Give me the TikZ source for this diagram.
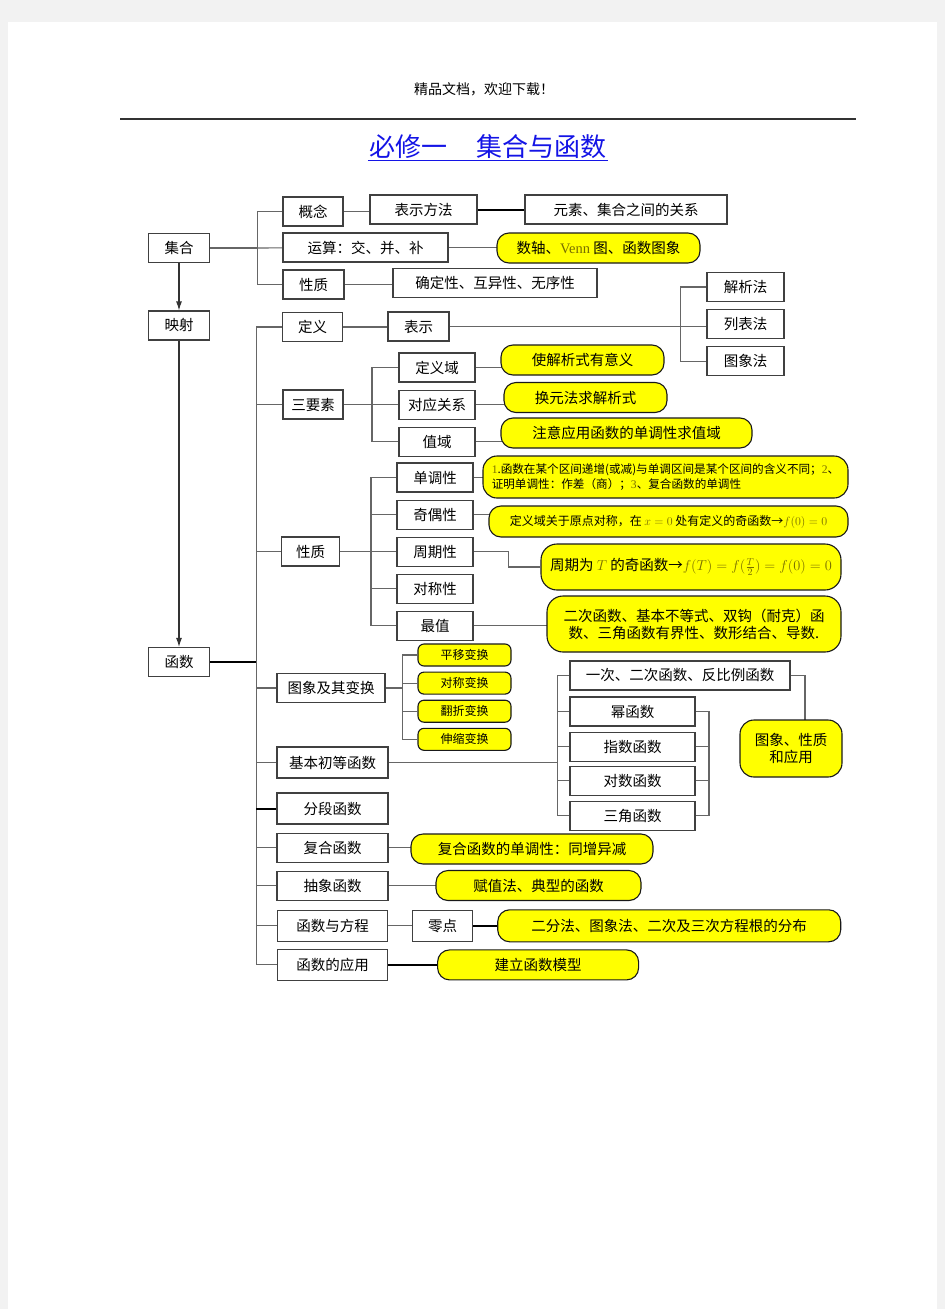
\documentclass[tikz,border=0pt]{standalone}
\usepackage{fontspec}
\setmainfont{Noto Sans CJK SC}
\newfontfamily\latinserif{Liberation Serif}
\usepackage{xcolor}
\usepackage{tikz}
\usetikzlibrary{arrows.meta,positioning,backgrounds}
\definecolor{pagegray}{RGB}{242,242,242}
\definecolor{hlyellow}{RGB}{255,255,0}
\definecolor{olivetxt}{RGB}{120,110,0}
\definecolor{titleblue}{RGB}{20,20,230}
\newcommand{\olv}[1]{{\latinserif\color{olivetxt}#1}}

\begin{document}
\begin{tikzpicture}[
      x=1pt, y=-1pt,
      font=\fontsize{14.5}{17}\selectfont,
      >={Latex[length=9pt,width=6pt]},
      box/.style={draw=black!75, line width=1.1pt, fill=white, inner sep=2pt, minimum height=29pt, align=center},
      hlbox/.style={box, draw=black!90, fill=hlyellow, rounded corners=12pt, minimum height=30pt},
      tagbox/.style={hlbox, rounded corners=6pt, minimum height=22pt, minimum width=93pt, font=\fontsize{12}{14}\selectfont},
      link/.style={draw=black!60, line width=1.1pt},
      heavylink/.style={draw=black, line width=2pt},
]

\useasboundingbox (0,0) rectangle (945,1309);

% header and title
\node[font=\fontsize{14}{16}\selectfont] (header) at (484,89) {精品文档，欢迎下载！};
\node[font=\fontsize{26}{30}\selectfont, text=titleblue, inner sep=1pt] (title) at (488,147) {必修一\hspace{30pt}集合与函数};

% sets
\node[box, minimum width=61pt] (jihe) at (179,248) {集合};
\node[box, minimum width=61pt] (yingshe) at (179,325.5) {映射};
\node[box, minimum width=61pt] (hanshu) at (179,662) {函数};

\node[box, minimum width=60pt] (gainian) at (313,211.5) {概念};
\node[box, minimum width=107pt] (bsff) at (423.5,209.5) {表示方法};
\node[box, minimum width=202pt] (guanxi) at (626,209.5) {元素、集合之间的关系};
\node[box, minimum width=165pt] (yunsuan) at (365.5,247.5) {运算：交、并、补};
\node[hlbox, minimum width=203pt] (venn) at (598.5,248) {数轴、\olv{Venn} 图、函数图象};
\node[box, minimum width=61pt] (xingzhi1) at (313.5,284.5) {性质};
\node[box, minimum width=204pt] (queding) at (495,283) {确定性、互异性、无序性};

% definition
\node[box, minimum width=60pt] (dingyi) at (312.5,327) {定义};
\node[box, minimum width=61pt] (biaoshi) at (418.5,326.5) {表示};
\node[box, minimum width=77pt] (jiexi) at (745.5,287) {解析法};
\node[box, minimum width=77pt, below=7pt of jiexi] (liebiao) {列表法};
\node[box, minimum width=77pt, below=7pt of liebiao] (tuxiang) {图象法};

% three elements
\node[box, minimum width=60pt] (sanyaosu) at (313,404.5) {三要素};
\node[box, minimum width=76pt] (dyy) at (437,367.5) {定义域};
\node[box, minimum width=76pt, below=7pt of dyy] (dygx) {对应关系};
\node[box, minimum width=76pt, below=7pt of dygx] (zhiyu) {值域};
\node[hlbox, minimum width=163pt] (yjiexi) at (582.5,360) {使解析式有意义};
\node[hlbox, minimum width=163pt] (yhuanyuan) at (585.5,397.5) {换元法求解析式};
\node[hlbox, minimum width=251pt] (yzhiyu) at (626.5,433) {注意应用函数的单调性求值域};

% properties
\node[box, minimum width=58pt] (xingzhi2) at (310.5,551.5) {性质};
\node[box, minimum width=76pt] (dandiao) at (435,477.5) {单调性};
\node[box, minimum width=76pt, below=7pt of dandiao] (qiou) {奇偶性};
\node[box, minimum width=76pt, below=7pt of qiou] (zhouqi) {周期性};
\node[box, minimum width=76pt, below=7pt of zhouqi] (duichen) {对称性};
\node[box, minimum width=76pt, below=7pt of duichen] (zuizhi) {最值};
\node[hlbox, minimum width=365pt, minimum height=42pt, rounded corners=14pt, align=left, font=\fontsize{11.6}{15}\selectfont] (ydandiao) at (665.5,477)
  {\olv{1}.函数在某个区间递增(或减)与单调区间是某个区间的含义不同；\olv{2}、\\证明单调性：作差（商）；\olv{3}、复合函数的单调性};
\node[hlbox, minimum width=359pt, minimum height=31pt, font=\fontsize{12}{14}\selectfont] (yqiou) at (668.5,521.5)
  {定义域关于原点对称，在 {\color{olivetxt}$x=0$} 处有定义的奇函数→{\color{olivetxt}$f(0)=0$}};
\node[hlbox, minimum width=300pt, minimum height=46pt, rounded corners=16pt] (yzhouqi) at (691,567)
  {周期为 {\color{olivetxt}$T$} 的奇函数→{\color{olivetxt}$f(T)=f(\frac{T}{2})=f(0)=0$}};
\node[hlbox, minimum width=294pt, minimum height=56pt, rounded corners=16pt] (yzuizhi) at (694,624)
  {二次函数、基本不等式、双钩（耐克）函\\数、三角函数有界性、数形结合、导数.};

% graphs and transforms
\node[box, minimum width=108pt] (bianhuan) at (331,688) {图象及其变换};
\node[tagbox] (pingyi) at (464.5,655) {平移变换};
\node[tagbox, below=5pt of pingyi] (duichenbh) {对称变换};
\node[tagbox, below=5pt of duichenbh] (fanzhe) {翻折变换};
\node[tagbox, below=5pt of fanzhe] (shensuo) {伸缩变换};

% elementary functions
\node[box, minimum width=111pt, minimum height=31pt] (jiben) at (332.5,762.5) {基本初等函数};
\node[box, minimum width=220pt] (yici) at (680,675.5) {一次、二次函数、反比例函数};
\node[box, minimum width=125pt] (mi) at (632.5,711.5) {幂函数};
\node[box, minimum width=125pt, below=5pt of mi] (zhishu) {指数函数};
\node[box, minimum width=125pt, below=4pt of zhishu] (duishu) {对数函数};
\node[box, minimum width=125pt, below=5pt of duishu] (sanjiao) {三角函数};
\node[hlbox, minimum width=102pt, minimum height=57pt, rounded corners=14pt] (tuxingyy) at (791,748.5) {图象、性质\\和应用};

% other kinds
\node[box, minimum width=111pt, minimum height=31pt] (fenduan) at (332.5,808.5) {分段函数};
\node[box, minimum width=111pt, below=8pt of fenduan] (fuhe) {复合函数};
\node[box, minimum width=111pt, below=8pt of fuhe] (chouxiang) {抽象函数};
\node[box, minimum width=110pt, minimum height=31pt, below=9pt of chouxiang] (fangcheng) {函数与方程};
\node[box, minimum width=110pt, minimum height=31pt, below=7pt of fangcheng] (yingyong) {函数的应用};
\node[hlbox, minimum width=242pt] (yfuhe) at (532,849) {复合函数的单调性：同增异减};
\node[hlbox, minimum width=205pt] (yfuzhi) at (538.5,885.5) {赋值法、典型的函数};
\node[box, minimum width=60pt, minimum height=31pt, right=24pt of fangcheng] (lingdian) {零点};
\node[hlbox, minimum width=343pt, minimum height=32pt, right=24pt of lingdian] (yerfen) {二分法、图象法、二次及三次方程根的分布};
\node[hlbox, minimum width=201pt, right=49pt of yingyong] (yjianli) {建立函数模型};

\draw[->, link, draw=black!80] (jihe) -- (yingshe);
\draw[->, link, draw=black!80] (yingshe) -- (hanshu);

\begin{scope}[on background layer]
\fill[pagegray] (0,0) rectangle (945,1309);
\fill[white] (8,22) rectangle (937,1309);
\draw[line width=1.5pt, black!80] (120,119) -- (856,119);
\draw[titleblue, line width=1.2pt] (title.south west) -- (title.south east);

% set branches
\draw[link] (jihe.east) -- ++(47,0) coordinate (jb);
\draw[link] (jb) -- (yunsuan);
\draw[link] (gainian) -| (jb) |- (xingzhi1);
\draw[link] (gainian) -- (gainian -| bsff);
\draw[heavylink] (bsff) -- (guanxi);
\draw[link] (yunsuan) -- (yunsuan -| venn);
\draw[link] (xingzhi1) -- (xingzhi1 -| queding);

% function branches
\draw[heavylink] (hanshu.east) -- ++(46,0) coordinate (fb);
\draw[link] (dingyi) -| (fb) |- (yingyong);
\foreach \n in {sanyaosu,xingzhi2,bianhuan,jiben,fuhe,chouxiang,fangcheng}
  \draw[link] (\n) -- (\n -| fb);
\draw[heavylink] (fenduan) -- (fenduan -| fb);

\draw[link] (dingyi) -- (dingyi -| biaoshi);
\draw[link] (biaoshi) -- (biaoshi -| liebiao);
\draw[link] (jiexi) -- ++(-65,0) coordinate (rb1) |- (tuxiang);

\draw[link] (sanyaosu) -- (sanyaosu -| dygx);
\draw[link] (dyy) -- ++(-65,0) |- (zhiyu);
\foreach \a/\b in {dyy/yjiexi,dygx/yhuanyuan,zhiyu/yzhiyu}
  \draw[link] (\a) -- (\a -| \b);

\draw[link] (xingzhi2) -- (xingzhi2 -| zhouqi);
\draw[link] (dandiao) -- ++(-64,0) coordinate (pb) |- (zuizhi);
\foreach \n in {qiou,duichen}
  \draw[link] (\n) -- (\n -| pb);
\foreach \a/\b in {dandiao/ydandiao,qiou/yqiou,zuizhi/yzuizhi}
  \draw[link] (\a) -- (\a -| \b);
\draw[link] (zhouqi.east) -- ++(35,0) |- (yzhouqi);

\draw[link] (bianhuan.east) -- ++(17,0) coordinate (tb);
\draw[link] (pingyi) -| (tb) |- (shensuo);
\foreach \n in {duichenbh,fanzhe}
  \draw[link] (\n) -- (\n -| tb);

\draw[link] (jiben.east) -- ++(169,0) coordinate (eb);
\draw[link] (yici) -| (eb) |- (sanjiao);
\foreach \n in {mi,zhishu,duishu}
  \draw[link] (\n) -- (\n -| eb);
\draw[link] (mi) -- ++(76.5,0) coordinate (mb) |- (sanjiao);
\foreach \n in {zhishu,duishu}
  \draw[link] (\n) -- (\n -| mb);
\draw[link] (yici) -| ([xshift=14pt]tuxingyy.center);

\draw[link] (fuhe) -- (fuhe -| yfuhe);
\draw[link] (chouxiang) -- (chouxiang -| yfuzhi);
\draw[link] (fangcheng) -- (lingdian);
\draw[heavylink] (lingdian) -- (yerfen);
\draw[heavylink] (yingyong) -- (yjianli);
\end{scope}

\end{tikzpicture}
\end{document}
